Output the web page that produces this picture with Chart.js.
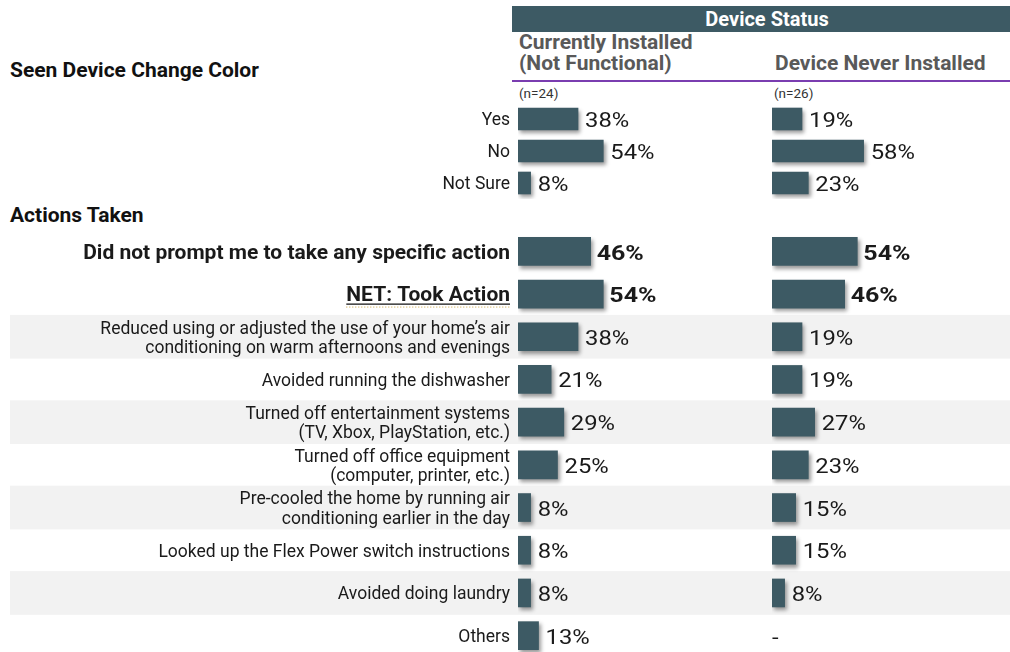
<!DOCTYPE html>
<html>
<head>
<meta charset="utf-8">
<script src="https://cdn.jsdelivr.net/npm/chart.js@4.4.1/dist/chart.umd.min.js"></script>
<style>
  body { margin: 0; width: 1010px; height: 652px; overflow: hidden; position: relative; background: #fff; font-family: Roboto, sans-serif; }
  .abs { position: absolute; white-space: nowrap; }
  .hdr { left: 512px; top: 6px; width: 510px; height: 26px; background: #3d5a64; color: #fff; font-weight: bold; font-size: 20px; line-height: 26px; text-align: center; }
  .col { color: #595959; font-weight: bold; font-size: 21px; line-height: 21px; }
  .rule { left: 512px; top: 80px; width: 498px; height: 2px; background: #7a3db0; }
  .n { font-size: 13.5px; color: #333; }
  .sec { font-weight: bold; font-size: 21px; color: #111; }
  canvas { position: absolute; }
</style>
</head>
<body>
<div class="abs hdr">Device Status</div>
<div class="abs col" style="left:519px;top:32px">Currently Installed<br>(Not Functional)</div>
<div class="abs col" style="left:775px;top:53px">Device Never Installed</div>
<div class="abs rule"></div>
<div class="abs n" style="left:519px;top:85px">(n=24)</div>
<div class="abs n" style="left:774px;top:85px">(n=26)</div>
<div class="abs sec" style="left:10px;top:58px">Seen Device Change Color</div>
<div class="abs sec" style="left:10px;top:203px">Actions Taken</div>

<canvas id="seenLeft" width="772" height="96" style="left:0;top:103px"></canvas>
<canvas id="seenRight" width="238" height="96" style="left:772px;top:103px"></canvas>
<canvas id="actLeft" width="772" height="427" style="left:0;top:230px"></canvas>
<canvas id="actRight" width="238" height="427" style="left:772px;top:230px"></canvas>

<script>
// data
const seenLabels = ['Yes', 'No', 'Not Sure'];
const seenInstalled = [38, 54, 8];
const seenNever = [19, 58, 23];

const actionLabels = [
    'Did not prompt me to take any specific action',
    'NET: Took Action',
    ['Reduced using or adjusted the use of your home\u2019s air', 'conditioning on warm afternoons and evenings'],
    'Avoided running the dishwasher',
    ['Turned off entertainment systems', '(TV, Xbox, PlayStation, etc.)'],
    ['Turned off office equipment', '(computer, printer, etc.)'],
    ['Pre-cooled the home by running air', 'conditioning earlier in the day'],
    'Looked up the Flex Power switch instructions',
    'Avoided doing laundry',
    'Others'
];
const actionInstalled = [46, 54, 38, 21, 29, 25, 8, 8, 8, 13];
const actionNever = [54, 46, 19, 19, 27, 23, 15, 15, 8, null];
const boldRows = [0, 1];
const stripedRows = [2, 4, 6, 8];

const barColor = '#3d5a64';
const FONT = 'Roboto';

// gray bands behind every other action row
const stripes = {
    id: 'stripes',
    beforeDraw(chart, args, opts) {
        if (!opts.rows) return;
        const ctx = chart.ctx, y = chart.scales.y;
        const band = y.getPixelForValue(1) - y.getPixelForValue(0);
        ctx.save();
        ctx.fillStyle = '#f2f2f2';
        opts.rows.forEach(i => {
            const c = y.getPixelForValue(i);
            ctx.fillRect(opts.left, c - band / 2 - 0.5, chart.width - opts.left, band + 1);
        });
        ctx.restore();
    }
};

// soft shadow under bars
const shadow = {
    id: 'shadow',
    beforeDatasetDraw(chart) {
        const ctx = chart.ctx;
        ctx.save();
        ctx.shadowColor = 'rgba(0,0,0,0.4)';
        ctx.shadowBlur = 4;
        ctx.shadowOffsetX = 2;
        ctx.shadowOffsetY = 3;
    },
    afterDatasetDraw(chart) {
        chart.ctx.restore();
    }
};

// percent labels right of each bar, '-' for missing
const valueLabels = {
    id: 'valueLabels',
    afterDraw(chart, args, opts) {
        const ctx = chart.ctx;
        const meta = chart.getDatasetMeta(0);
        const data = chart.data.datasets[0].data;
        ctx.save();
        ctx.textBaseline = 'middle';
        ctx.fillStyle = '#1a1a1a';
        meta.data.forEach((bar, i) => {
            const bold = (opts.bold || []).includes(i);
            ctx.font = (bold ? 'bold 21px ' : '20px ') + FONT;
            let x, y, text;
            if (data[i] == null) {
                x = chart.scales.x.getPixelForValue(0); y = chart.scales.y.getPixelForValue(i) + 3; text = '-';
            } else {
                x = bar.x + (bold ? 6 : 7); y = bar.y + 3; text = data[i] + '%';
            }
            ctx.save();
            ctx.translate(x, y);
            ctx.scale(1.19, 1);
            ctx.fillText(text, 0, 0);
            ctx.restore();
        });
        ctx.restore();
    }
};

// underline for the NET row label
const netUnderline = {
    id: 'netUnderline',
    afterDraw(chart, args, opts) {
        if (opts.row == null) return;
        const ctx = chart.ctx, y = chart.scales.y;
        const text = chart.data.labels[opts.row];
        ctx.save();
        ctx.font = 'bold 21px ' + FONT;
        const w = ctx.measureText(text).width;
        const right = y.right - 8;
        const yy = y.getPixelForValue(opts.row) + 10;
        ctx.strokeStyle = '#111';
        ctx.lineWidth = 1.3;
        ctx.beginPath();
        ctx.moveTo(right - w, yy);
        ctx.lineTo(right, yy);
        ctx.stroke();
        ctx.strokeStyle = '#c9a13c';
        ctx.lineWidth = 1;
        ctx.setLineDash([1, 2]);
        ctx.beginPath();
        ctx.moveTo(right - w, yy + 3);
        ctx.lineTo(right, yy + 3);
        ctx.stroke();
        ctx.restore();
    }
};

const makeChart = (id, labels, values, opt) => {
    return new Chart(document.getElementById(id), {
        type: 'bar',
        data: {
            labels: labels,
            datasets: [{
                data: values,
                backgroundColor: barColor,
                borderWidth: 0,
                barThickness: opt.thickness
            }]
        },
        options: {
            indexAxis: 'y',
            responsive: false,
            animation: false,
            layout: { padding: 0 },
            plugins: {
                legend: { display: false },
                tooltip: { enabled: false },
                stripes: { rows: opt.stripes, left: opt.stripeLeft },
                valueLabels: { bold: opt.bold },
                netUnderline: { row: opt.underline }
            },
            scales: {
                x: {
                    display: false,
                    min: 0,
                    max: opt.max
                },
                y: {
                    display: opt.showLabels,
                    grid: { display: false, drawTicks: false },
                    border: { display: false },
                    ticks: {
                        padding: 8,
                        labelOffset: 2,
                        color: '#1a1a1a',
                        font: (c) => {
                            const bold = (opt.bold || []).includes(c.index);
                            return {
                                family: FONT,
                                size: bold ? 21 : 17.5,
                                lineHeight: 1.1,
                                weight: bold ? 'bold' : 'normal'
                            };
                        }
                    },
                    afterFit: (scale) => {
                        if (opt.showLabels) scale.width = 518;
                        scale.paddingTop = 0;
                        scale.paddingBottom = 0;
                    }
                }
            }
        },
        plugins: [stripes, shadow, valueLabels, netUnderline]
    });
};

makeChart('seenLeft', seenLabels, seenInstalled, { thickness: 22, max: 254 / 1.58, showLabels: true });
makeChart('seenRight', seenLabels, seenNever, { thickness: 22, max: 238 / 1.58, showLabels: false });
makeChart('actLeft', actionLabels, actionInstalled, {
    thickness: 28, max: 254 / 1.58, showLabels: true,
    bold: boldRows, underline: 1, stripes: stripedRows, stripeLeft: 10
});
makeChart('actRight', actionLabels, actionNever, {
    thickness: 28, max: 238 / 1.58, showLabels: false,
    bold: boldRows, stripes: stripedRows, stripeLeft: 0
});
</script>
</body>
</html>
